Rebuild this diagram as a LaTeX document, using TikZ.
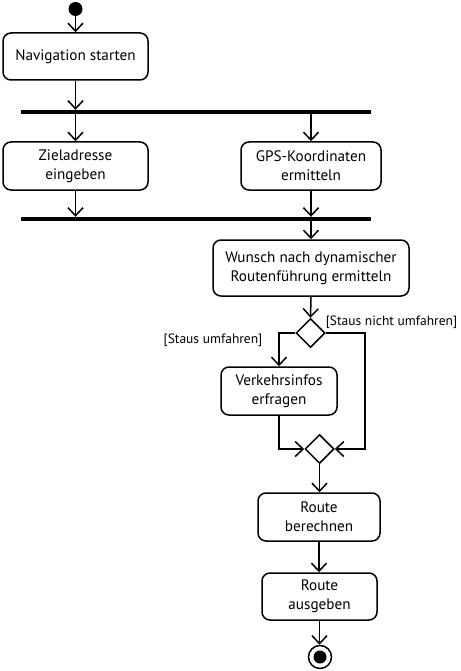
\documentclass[tikz,border=0pt]{standalone}
\usepackage{fontspec}
\setmainfont{PT Sans}
\usetikzlibrary{shapes.geometric,arrows.meta}
\begin{document}
\begin{tikzpicture}[x=1pt,y=-1pt,
  act/.style={draw,line width=1.5pt,rounded corners=8pt,align=center,inner sep=0pt,font=\fontsize{15.2}{19}\selectfont},
  bar/.style={fill=black,inner sep=0pt,minimum width=350pt,minimum height=4pt},
  dec/.style={draw,diamond,line width=1.5pt,inner sep=0pt,minimum width=29pt,minimum height=29pt},
  arr/.style={line width=1.5pt,-{Straight Barb[length=8pt,width=15pt,line width=1.5pt]}},
  ln/.style={line width=1.5pt},
  guard/.style={font=\fontsize{13.5}{15}\selectfont,inner sep=0pt}]
\useasboundingbox (0,0) rectangle (460,671);
\node[circle,fill=black,inner sep=0pt,minimum size=14pt] (start) at (75.5,9) {};
\node[act,minimum width=145pt,minimum height=47pt] (nav) at (75.5,56.5) {Navigation starten};
\node[bar] (fork) at (196,112) {};
\node[act,minimum width=145pt,minimum height=48pt] (zl) at (75.5,166) {Zieladresse\\eingeben};
\node[act,minimum width=140pt,minimum height=48pt] (gps) at (311,166) {GPS-Koordinaten\\ermitteln};
\node[bar] (join) at (196,219) {};
\node[act,minimum width=196pt,minimum height=56pt] (wu) at (311,268) {Wunsch nach dynamischer\\Routenführung ermitteln};
\node[dec] (d1) at (310.5,333) {};
\node[act,minimum width=116pt,minimum height=48pt] (vk) at (279,391) {Verkehrsinfos\\erfragen};
\node[dec] (m1) at (319.5,449) {};
\node[act,minimum width=122pt,minimum height=48pt] (rb) at (319,517) {Route\\berechnen};
\node[act,minimum width=115pt,minimum height=47pt] (ra) at (319.5,596.5) {Route\\ausgeben};
\node[circle,draw,line width=1.5pt,inner sep=0pt,minimum size=23pt] (end) at (320,657) {};
\node[circle,fill=black,inner sep=0pt,minimum size=13pt] (endin) at (end.center) {};
\node[guard] (g1) at (391.5,322.5) {[Staus nicht umfahren]};
\node[guard] (g2) at (213,340) {[Staus umfahren]};
\coordinate (rc) at (365,333);
\draw[arr] (start) -- (nav.north);
\draw[arr] (nav.south) -- (nav.south |- fork.north);
\draw[arr] (zl.north |- fork.south) -- (zl.north);
\draw[arr] (gps.north |- fork.south) -- (gps.north);
\draw[arr] (zl.south) -- (zl.south |- join.north);
\draw[arr] (gps.south) -- (gps.south |- join.north);
\draw[arr] (wu.north |- join.south) -- (wu.north);
\draw[arr] (wu.south) -- (d1.north);
\draw[arr] (d1.west) -| (vk.north);
\draw[arr] (d1.east) -- (rc) |- (m1.east);
\draw[arr] (vk.south) |- (m1.west);
\draw[arr] (m1.south) -- (m1.south |- rb.north);
\draw[arr] (rb.south) -- (rb.south |- ra.north);
\draw[arr] (ra.south) -- (ra.south |- end.north);
\end{tikzpicture}
\end{document}
